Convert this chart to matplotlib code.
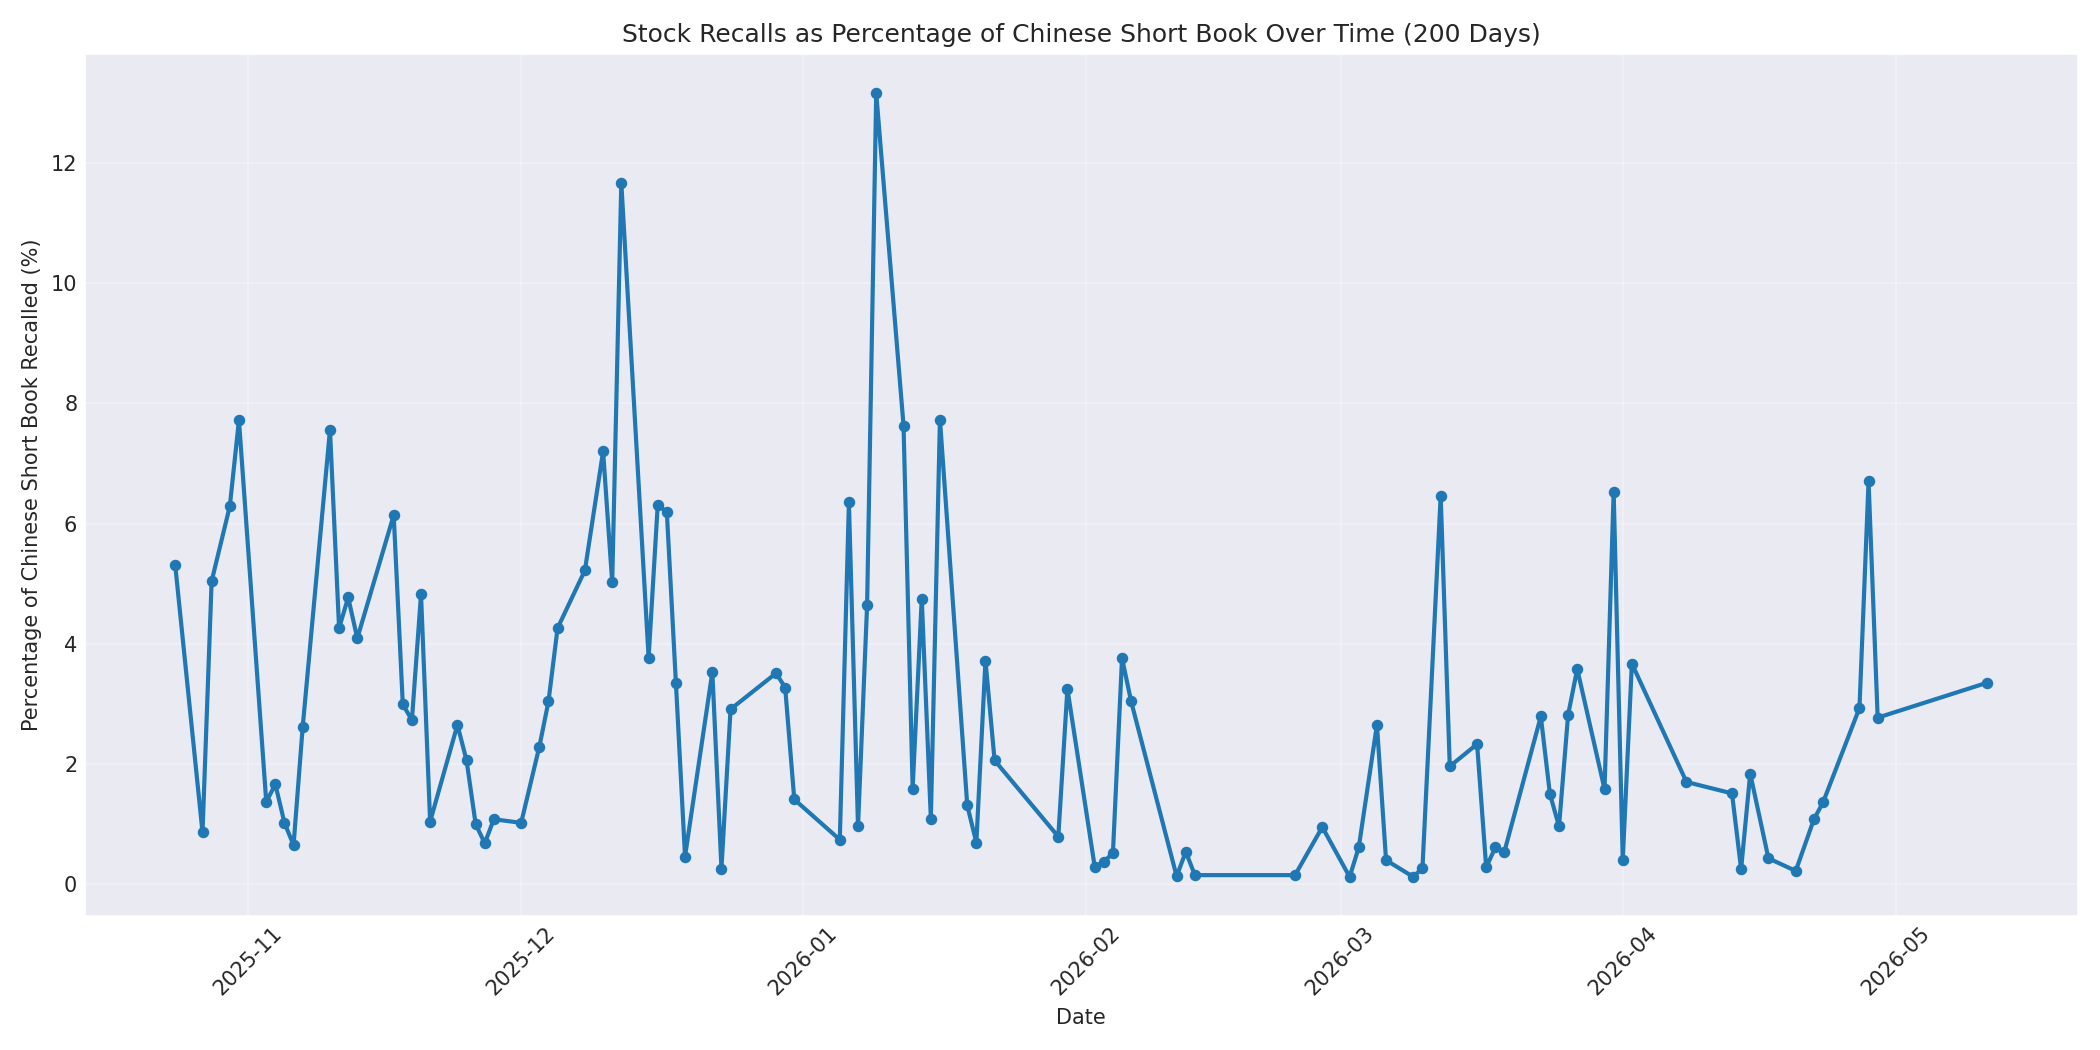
import matplotlib
matplotlib.use("Agg")
import matplotlib.pyplot as plt
import seaborn as sns
import pandas as pd

dates = [
    "2025-10-24", "2025-10-27", "2025-10-28", "2025-10-30", "2025-10-31",
    "2025-11-03", "2025-11-04", "2025-11-05", "2025-11-06", "2025-11-07",
    "2025-11-10", "2025-11-11", "2025-11-12", "2025-11-13",
    "2025-11-17", "2025-11-18", "2025-11-19", "2025-11-20", "2025-11-21",
    "2025-11-24", "2025-11-25", "2025-11-26", "2025-11-27", "2025-11-28",
    "2025-12-01", "2025-12-03", "2025-12-04", "2025-12-05",
    "2025-12-08", "2025-12-10", "2025-12-11", "2025-12-12",
    "2025-12-15", "2025-12-16", "2025-12-17", "2025-12-18", "2025-12-19",
    "2025-12-22", "2025-12-23", "2025-12-24",
    "2025-12-29", "2025-12-30", "2025-12-31",
    "2026-01-05", "2026-01-06", "2026-01-07", "2026-01-08", "2026-01-09",
    "2026-01-12", "2026-01-13", "2026-01-14", "2026-01-15", "2026-01-16",
    "2026-01-19", "2026-01-20", "2026-01-21", "2026-01-22",
    "2026-01-29", "2026-01-30",
    "2026-02-02", "2026-02-03", "2026-02-04", "2026-02-05", "2026-02-06",
    "2026-02-11", "2026-02-12", "2026-02-13",
    "2026-02-24", "2026-02-27",
    "2026-03-02", "2026-03-03", "2026-03-05", "2026-03-06",
    "2026-03-09", "2026-03-10", "2026-03-12", "2026-03-13",
    "2026-03-16", "2026-03-17", "2026-03-18", "2026-03-19",
    "2026-03-23", "2026-03-24", "2026-03-25", "2026-03-26", "2026-03-27",
    "2026-03-30", "2026-03-31", "2026-04-01", "2026-04-02",
    "2026-04-08",
    "2026-04-13", "2026-04-14", "2026-04-15", "2026-04-17",
    "2026-04-20", "2026-04-22", "2026-04-23",
    "2026-04-27", "2026-04-28", "2026-04-29",
    "2026-05-11",
]

recall_pct = [
    5.31, 0.86, 5.04, 6.29, 7.72,
    1.37, 1.66, 1.02, 0.65, 2.61,
    7.56, 4.26, 4.77, 4.09,
    6.14, 2.99, 2.73, 4.82, 1.04,
    2.65, 2.06, 1.00, 0.68, 1.08,
    1.02, 2.29, 3.04, 4.26,
    5.22, 7.20, 5.02, 11.67,
    3.77, 6.31, 6.19, 3.34, 0.46,
    3.53, 0.26, 2.91,
    3.51, 3.27, 1.41,
    0.74, 6.35, 0.96, 4.65, 13.16,
    7.63, 1.59, 4.75, 1.09, 7.73,
    1.31, 0.69, 3.72, 2.06,
    0.79, 3.25,
    0.29, 0.37, 0.52, 3.76, 3.04,
    0.13, 0.54, 0.15,
    0.15, 0.95,
    0.12, 0.61, 2.65, 0.40,
    0.12, 0.27, 6.46, 1.96,
    2.33, 0.28, 0.61, 0.54,
    2.79, 1.50, 0.96, 2.82, 3.58,
    1.58, 6.53, 0.40, 3.67,
    1.70,
    1.51, 0.25, 1.84, 0.43,
    0.22, 1.08, 1.36,
    2.93, 6.70, 2.77,
    3.35,
]

title = "Stock Recalls as Percentage of Chinese Short Book Over Time (200 Days)"
xlabel = "Date"
ylabel = "Percentage of Chinese Short Book Recalled (%)"

sns.set_style("darkgrid")
plt.rcParams.update({
    "xtick.major.size": 0, "ytick.major.size": 0,
    "xtick.minor.size": 0, "ytick.minor.size": 0,
})
plt.rcParams["font.family"] = ["DejaVu Sans"]

x = pd.to_datetime(dates)

fig, ax = plt.subplots(figsize=(14, 7), dpi=150)
ax.plot(x, recall_pct, marker="o", linewidth=2, markersize=4.5, color="#1f77b4")
ax.set_title(title, fontsize=12)
ax.set_xlabel(xlabel, fontsize=10)
ax.set_ylabel(ylabel, fontsize=10)
ax.tick_params(axis="both", labelsize=10)
ax.grid(True, alpha=0.3)
plt.setp(ax.get_xticklabels(), rotation=45)
fig.tight_layout()
fig.savefig("out.png", dpi=150)
